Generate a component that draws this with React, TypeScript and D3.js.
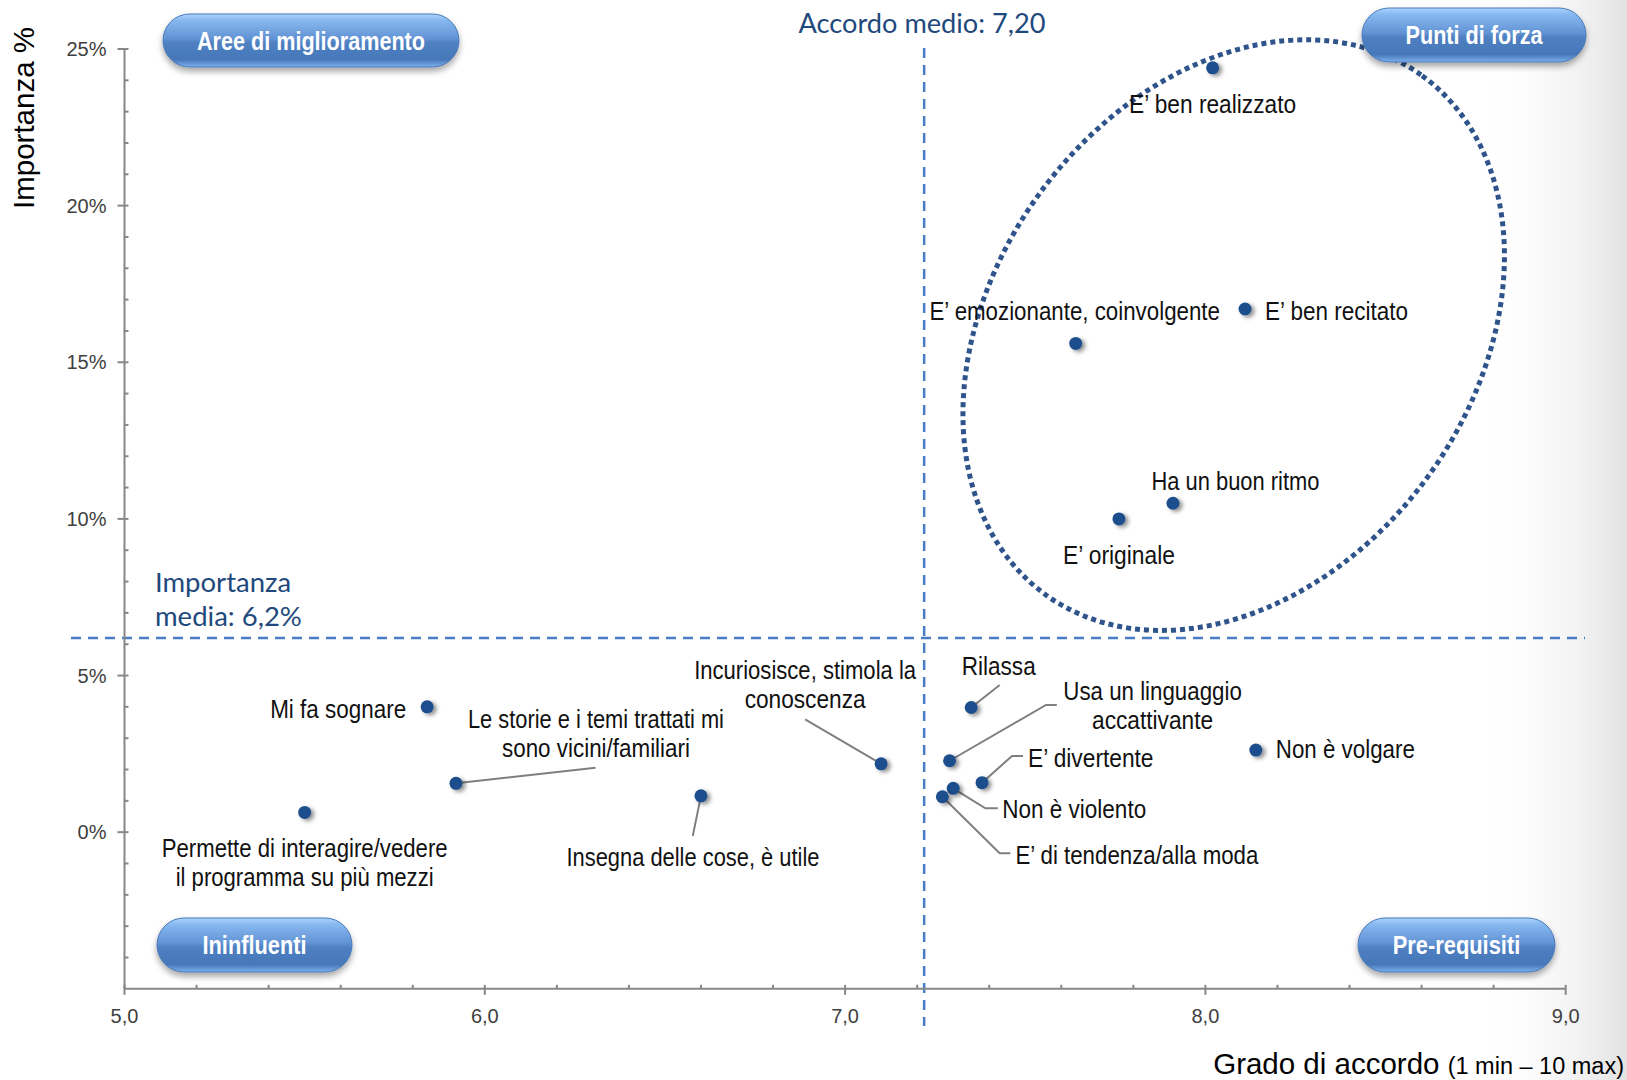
import React from "react";
import * as d3 from "d3";

// ---------- data ----------
const categories = [
  "E’ ben realizzato",
  "E’ ben recitato",
  "E’ emozionante, coinvolgente",
  "Ha un buon ritmo",
  "E’ originale",
  "Mi fa sognare",
  "Le storie e i temi trattati mi\nsono vicini/familiari",
  "Permette di interagire/vedere\nil programma su più mezzi",
  "Insegna delle cose, è utile",
  "Incuriosisce, stimola la\nconoscenza",
  "Rilassa",
  "Usa un linguaggio\naccattivante",
  "E’ divertente",
  "Non è violento",
  "E’ di tendenza/alla moda",
  "Non è volgare",
];
const accordo = [8.02, 8.11, 7.64, 7.91, 7.76, 5.84, 5.92, 5.5, 6.6, 7.1, 7.35, 7.29, 7.38, 7.3, 7.27, 8.14];
const importanza = [24.4, 16.7, 15.6, 10.5, 10.0, 4.0, 1.56, 0.63, 1.16, 2.18, 3.98, 2.28, 1.58, 1.4, 1.13, 2.62];

const xMajorTicks = [5, 6, 7, 8, 9];
const xTickLabels = ["5,0", "6,0", "7,0", "8,0", "9,0"];
const yMajorTicks = [0, 5, 10, 15, 20, 25];
const yTickLabels = ["0%", "5%", "10%", "15%", "20%", "25%"];
const accordoMedio = 7.2;
const importanzaMedia = 6.2;
const accordoMedioLabel = "Accordo medio: 7,20";
const importanzaMediaLabel = ["Importanza", "media: 6,2%"];
const quadrantNames = ["Aree di miglioramento", "Punti di forza", "Ininfluenti", "Pre-requisiti"];

// ---------- layout (annotation placement, pixels relative to each point) ----------
type LabelLayout = { anchor: "start" | "middle" | "end"; dx: number; dy: number; w: number[]; leader?: number[][] };
const labelLayout: LabelLayout[] = [
  { anchor: "middle", dx: 0, dy: 36, w: [167] },
  { anchor: "start", dx: 20, dy: 2, w: [143] },
  { anchor: "middle", dx: -1, dy: -33, w: [290.5] },
  { anchor: "middle", dx: 62.5, dy: -22.5, w: [168] },
  { anchor: "middle", dx: 0, dy: 36, w: [112] },
  { anchor: "end", dx: -21, dy: 2, w: [136] },
  { anchor: "middle", dx: 140, dy: -64, w: [256, 188], leader: [[139.5, -15.6]] },
  { anchor: "middle", dx: 0, dy: 35, w: [286, 258] },
  { anchor: "middle", dx: -8, dy: 61, w: [253], leader: [[-8.2, 40]] },
  { anchor: "middle", dx: -76, dy: -94, w: [222, 121], leader: [[-76, -44.6]] },
  { anchor: "middle", dx: 27.5, dy: -41.5, w: [74], leader: [[28.5, -22.5]] },
  { anchor: "middle", dx: 203, dy: -70, w: [178.5, 121], leader: [[96.4, -55.8], [107.2, -55.8]] },
  { anchor: "start", dx: 46, dy: -25, w: [125.5], leader: [[30, -26.7], [41, -26.7]] },
  { anchor: "start", dx: 49, dy: 21, w: [144], leader: [[32.2, 20], [44.7, 20]] },
  { anchor: "start", dx: 73, dy: 58, w: [243], leader: [[57.3, 56.5], [68, 56.5]] },
  { anchor: "start", dx: 20, dy: -1, w: [139] },
];
const pillBoxes = [
  { x: 163, y: 14, w: 296, h: 53, tw: 228 },
  { x: 1362, y: 8, w: 224, h: 54, tw: 137 },
  { x: 157, y: 918, w: 195, h: 54, tw: 104 },
  { x: 1358, y: 918, w: 197, h: 54, tw: 127.6 },
];

const W = 1627;
const H = 1080;
const ARIAL = "'Liberation Sans',Arial,sans-serif";
const CALIBRI = "Lato,'Open Sans',sans-serif";
const AXIS = "#878787";
const REF = "#4a7cc6";
const NAVY = "#1f497d";

export default function App() {
  const x = d3.scaleLinear().domain([5, 9]).range([124.5, 1565.7]);
  const y = d3.scaleLinear().domain([-5, 25]).range([988.8, 49]);
  const xMinor = d3.range(5, 9.0001, 0.2).filter((v) => Math.abs(v - Math.round(v)) > 1e-6);
  const yMinor = d3.range(-5, 25.0001, 1).filter((v) => Math.abs(v % 5) > 1e-6);
  const x0 = x(5);
  const y0 = y(-5);
  const vx = x(accordoMedio) + 7;

  const points = categories.map((c, i) => ({ name: c, px: x(accordo[i]), py: y(importanza[i]), lay: labelLayout[i] }));
  const line = d3.line();

  return (
    <svg width={W} height={H} style={{ position: "absolute", left: 0, top: 0, background: "#fff" }}>
      <defs>
        <linearGradient id="bgRight" x1="0" x2="1" y1="0" y2="0">
          <stop offset="0" stopColor="#ffffff" stopOpacity="0" />
          <stop offset="1" stopColor="#e2e2e2" stopOpacity="1" />
        </linearGradient>
        <linearGradient id="pillGrad" x1="0" x2="0" y1="0" y2="1">
          <stop offset="0" stopColor="#a9d4fd" />
          <stop offset="0.12" stopColor="#88b8f0" />
          <stop offset="0.46" stopColor="#6293d4" />
          <stop offset="0.54" stopColor="#5080c2" />
          <stop offset="0.86" stopColor="#4677b9" />
          <stop offset="1" stopColor="#7eb0ec" />
        </linearGradient>
        <filter id="pillShadow" x="-20%" y="-30%" width="140%" height="180%">
          <feDropShadow dx="0" dy="4" stdDeviation="3" floodColor="#000" floodOpacity="0.35" />
        </filter>
        <filter id="ptShadow" x="-100%" y="-100%" width="300%" height="300%">
          <feDropShadow dx="3" dy="2" stdDeviation="2" floodColor="#000" floodOpacity="0.45" />
        </filter>
      </defs>

      <rect x={0} y={0} width={W} height={H} fill="#fff" />
      <rect x={1480} y={0} width={W - 1480} height={H} fill="url(#bgRight)" />

      {/* reference lines */}
      <line x1={71} x2={1585} y1={y(importanzaMedia)} y2={y(importanzaMedia)} stroke={REF} strokeWidth={2.5} strokeDasharray="10 7" />
      <line x1={vx} x2={vx} y1={48} y2={1026} stroke={REF} strokeWidth={2.5} strokeDasharray="10 7" />

      {/* axes */}
      <g>
        <line x1={x0} x2={x0} y1={y(25)} y2={y0} stroke={AXIS} strokeWidth={2} />
        <line x1={x0} x2={x(9)} y1={y0} y2={y0} stroke={AXIS} strokeWidth={2} />
        {yMinor.map((v) => (
          <line key={"ym" + v} x1={x0} x2={x0 + 4} y1={y(v)} y2={y(v)} stroke={AXIS} strokeWidth={2} />
        ))}
        {yMajorTicks.map((v, i) => (
          <g key={"yM" + v}>
            <line x1={x0 - 7} x2={x0 + 4} y1={y(v)} y2={y(v)} stroke={AXIS} strokeWidth={2} />
            <text x={x0 - 18} y={y(v)} dy="0.35em" textAnchor="end" fontFamily={ARIAL} fontSize={20} fill="#404040">
              {yTickLabels[i]}
            </text>
          </g>
        ))}
        {xMinor.map((v) => (
          <line key={"xm" + v} x1={x(v)} x2={x(v)} y1={y0 - 4} y2={y0} stroke={AXIS} strokeWidth={2} />
        ))}
        {xMajorTicks.map((v, i) => (
          <g key={"xM" + v}>
            <line x1={x(v)} x2={x(v)} y1={y0 - 4} y2={y0 + 6} stroke={AXIS} strokeWidth={2} />
            <text x={x(v)} y={y0 + 34} textAnchor="middle" fontFamily={ARIAL} fontSize={20} fill="#404040">
              {xTickLabels[i]}
            </text>
          </g>
        ))}
        <text transform={`translate(34,118) rotate(-90)`} textAnchor="middle" fontFamily={ARIAL} fontSize={29.5} fill="#000">
          Importanza %
        </text>
        <text x={1624} y={1074} textAnchor="end" fontFamily={ARIAL} fill="#000">
          <tspan fontSize={29.5}>Grado di accordo </tspan>
          <tspan fontSize={23.5}>(1 min – 10 max)</tspan>
        </text>
      </g>

      {/* reference labels */}
      <text x={922} y={33} textAnchor="middle" fontFamily={CALIBRI} fontSize={27.2} fill={NAVY}>
        {accordoMedioLabel}
      </text>
      {importanzaMediaLabel.map((t, i) => (
        <text key={t} x={155} y={592 + i * 33.5} fontFamily={CALIBRI} fontSize={27.5} fill={NAVY}>
          {t}
        </text>
      ))}

      {/* highlight ellipse */}
      <ellipse
        cx={1233.7}
        cy={335.1}
        rx={320.6}
        ry={240.3}
        transform="rotate(-54 1233.7 335.1)"
        fill="none"
        stroke="#2f548c"
        strokeWidth={5}
        strokeDasharray="5 4"
      />

      {/* leader lines */}
      {points.map((p, i) =>
        p.lay.leader ? (
          <path
            key={"ld" + i}
            d={line([[p.px, p.py], ...p.lay.leader.map(([dx, dy]) => [p.px + dx, p.py + dy] as [number, number])]) || ""}
            fill="none"
            stroke="#7f7f7f"
            strokeWidth={2}
          />
        ) : null
      )}

      {/* points */}
      {points.map((p, i) => (
        <circle key={"pt" + i} cx={p.px} cy={p.py} r={6.5} fill="#1f4e8c" filter="url(#ptShadow)" />
      ))}

      {/* point labels */}
      {points.map((p, i) =>
        p.name.split("\n").map((t, j) => (
          <text
            key={"lb" + i + "_" + j}
            x={p.px + p.lay.dx}
            y={p.py + p.lay.dy + j * 29}
            dy="0.35em"
            fontFamily={ARIAL}
            fontSize={26}
            fill="#111"
            textAnchor={p.lay.anchor}
            textLength={p.lay.w[j]}
            lengthAdjust="spacingAndGlyphs"
          >
            {t}
          </text>
        ))
      )}

      {/* quadrant pills */}
      {quadrantNames.map((q, i) => {
        const b = pillBoxes[i];
        return (
          <g key={q}>
            <rect x={b.x} y={b.y} width={b.w} height={b.h} rx={b.h / 2} fill="url(#pillGrad)" stroke="#4a7ab8" strokeWidth={1} filter="url(#pillShadow)" />
            <text
              x={b.x + b.w / 2}
              y={b.y + b.h / 2}
              dy="0.37em"
              textAnchor="middle"
              fontFamily={ARIAL}
              fontWeight="bold"
              fontSize={25.5}
              fill="#fff"
              textLength={b.tw}
              lengthAdjust="spacingAndGlyphs"
            >
              {q}
            </text>
          </g>
        );
      })}
    </svg>
  );
}
